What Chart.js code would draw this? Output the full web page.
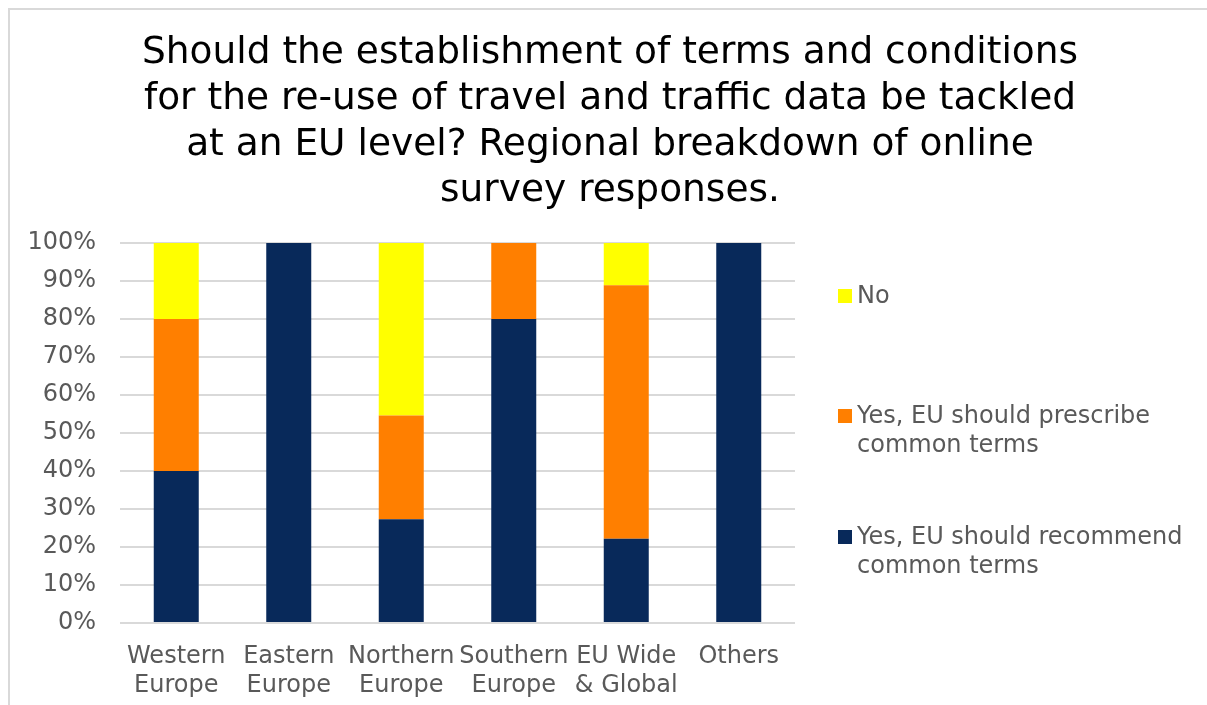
<!DOCTYPE html>
<html>
<head>
<meta charset="utf-8">
<script src="https://cdn.jsdelivr.net/npm/chart.js@4.4.1/dist/chart.umd.min.js"></script>
<style>
  body { margin: 0; background: #fff; font-family: "DejaVu Sans", sans-serif; }
  #frame {
    position: absolute; left: 8px; top: 8px; width: 1204px; height: 697px;
    box-sizing: border-box; border: 2px solid #d9d9d9; border-bottom: none; border-right: none;
  }
  #wrap { position: relative; width: 100%; height: 100%; }
  #judul {
    position: absolute; left: 10px; top: 27px; width: 1200px; text-align: center;
    font-size: 37.5px; line-height: 46px; color: #000;
  }
  .leg { position: absolute; left: 838px; font-size: 24px; line-height: 29px; color: #595959; }
  .leg .box { position: absolute; left: 0; top: 8px; width: 14px; height: 14px; }
  .leg .txt { margin-left: 19px; white-space: nowrap; }
</style>
</head>
<body>
<div id="frame"><div id="wrap"><canvas id="myChart"></canvas></div></div>
<div id="judul"></div>
<div id="legend"></div>
<script>
const categories = [
    ['Western', 'Europe'],
    ['Eastern', 'Europe'],
    ['Northern', 'Europe'],
    ['Southern', 'Europe'],
    ['EU Wide', '& Global'],
    ['Others']
];

// percentages per region
const recommend = [40, 100, 27.3, 80, 22.2, 100];
const prescribe = [40, 0, 27.3, 20, 66.7, 0];
const no = [20, 0, 45.4, 0, 11.1, 0];

const titleLines = [
    'Should the establishment of terms and conditions',
    'for the re-use of travel and traffic data be tackled',
    'at an EU level? Regional breakdown of online',
    'survey responses.'
];

const warna = {
    recommend: '#08295a',
    prescribe: '#ff7f00',
    no: '#ffff00'
};

document.getElementById('judul').innerHTML = titleLines.join('<br>');

// legend (drawn as html, top to bottom like the original)
const legendItems = [
    { text: 'No', color: warna.no, top: 281 },
    { text: 'Yes, EU should prescribe<br>common terms', color: warna.prescribe, top: 401 },
    { text: 'Yes, EU should recommend<br>common terms', color: warna.recommend, top: 522 }
];
const legendEl = document.getElementById('legend');
legendItems.forEach(function (item) {
    const div = document.createElement('div');
    div.className = 'leg';
    div.style.top = item.top + 'px';
    div.innerHTML = '<span class="box" style="background:' + item.color + '"></span><div class="txt">' + item.text + '</div>';
    legendEl.appendChild(div);
});

// canvas origin is at page (10,10)
const ctx = document.getElementById('myChart');
new Chart(ctx, {
    type: 'bar',
    data: {
        labels: categories,
        datasets: [
            { label: 'Yes, EU should recommend common terms', data: recommend, backgroundColor: warna.recommend },
            { label: 'Yes, EU should prescribe common terms', data: prescribe, backgroundColor: warna.prescribe },
            { label: 'No', data: no, backgroundColor: warna.no }
        ]
    },
    options: {
        responsive: true,
        maintainAspectRatio: false,
        animation: false,
        datasets: {
            bar: { categoryPercentage: 1, barPercentage: 0.4 }
        },
        layout: { padding: { left: 0, right: 1202 - 785, top: 233, bottom: 0 } },
        plugins: {
            legend: { display: false },
            tooltip: { enabled: false }
        },
        scales: {
            x: {
                stacked: true,
                grid: { display: false },
                border: { display: false },
                ticks: {
                    color: '#595959',
                    font: { family: 'DejaVu Sans', size: 24, lineHeight: 29 / 24 },
                    padding: 11,
                    maxRotation: 0,
                    autoSkip: false
                },
                afterFit: function (scale) { scale.height = 82; }
            },
            y: {
                stacked: true,
                min: 0,
                max: 100,
                grid: { color: '#d9d9d9', lineWidth: 2, drawTicks: false },
                border: { display: false },
                ticks: {
                    stepSize: 10,
                    color: '#595959',
                    font: { family: 'DejaVu Sans', size: 24 },
                    padding: 24,
                    callback: function (v) { return v + '%'; }
                },
                afterFit: function (scale) { scale.width = 110; }
            }
        }
    }
});
</script>
</body>
</html>
